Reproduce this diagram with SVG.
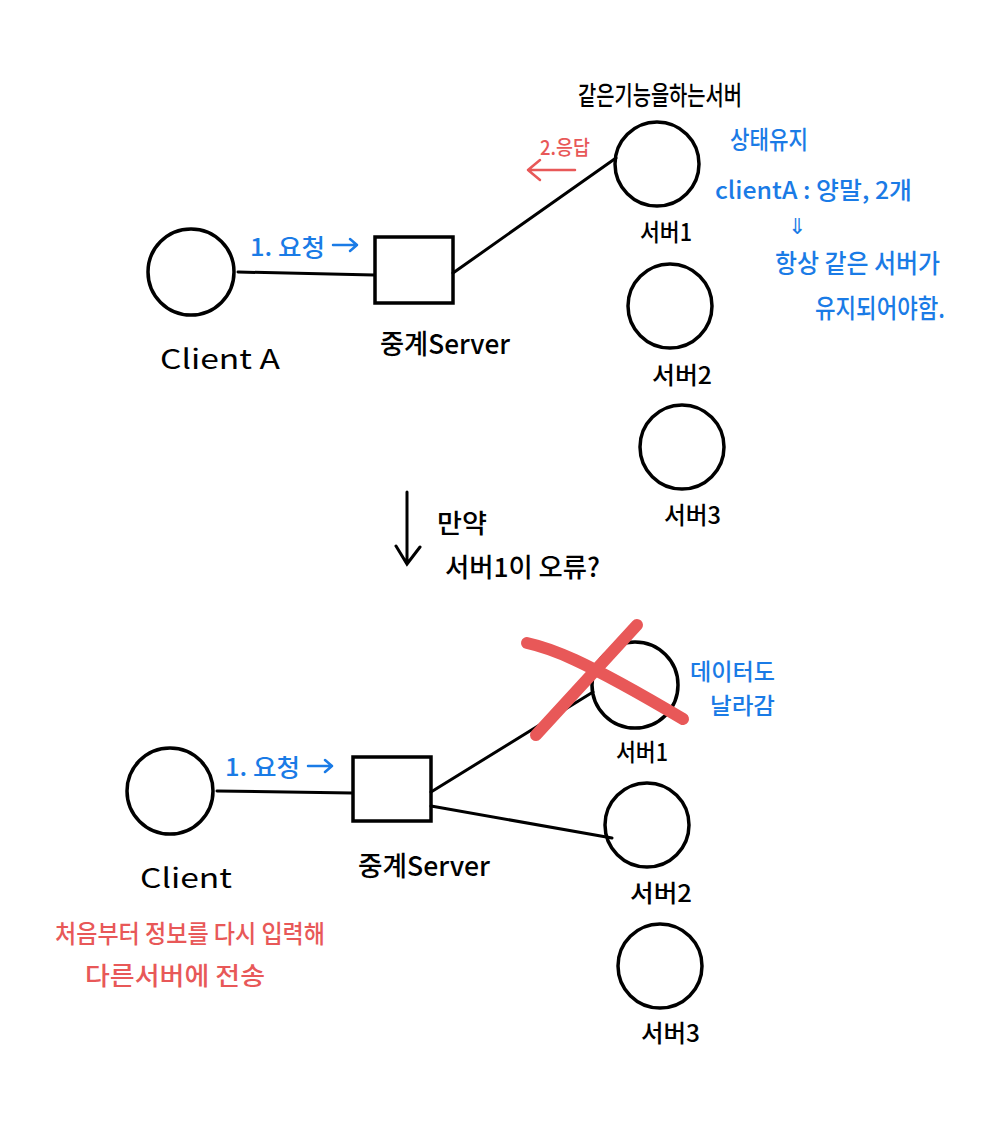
<svg xmlns="http://www.w3.org/2000/svg" width="1000" height="1142" viewBox="0 0 1000 1142">
<defs>
<style>
.bg{fill:#ffffff}
.node{fill:none;stroke:#000;stroke-width:3.5}
.edge{fill:none;stroke:#000;stroke-width:3;stroke-linecap:round}
.t{font-family:"Noto Sans CJK KR","Noto Sans",sans-serif;font-weight:500}
.lat{font-weight:400}
.k{fill:#000}
.b{fill:#1a7be6}
.r{fill:#e85858}
.bl{fill:none;stroke:#1a7be6;stroke-width:2.5;stroke-linecap:round;stroke-linejoin:round}
.rl{fill:none;stroke:#e85858;stroke-width:2.5;stroke-linecap:round;stroke-linejoin:round}
.x{fill:none;stroke:#e85858;stroke-width:12;stroke-linecap:round;stroke-linejoin:round}
</style>
</defs>
<rect class="bg" x="0" y="0" width="1000" height="1142"/>

<g id="connectors">
  <line class="edge" x1="238" y1="272" x2="374" y2="275"/>
  <line class="edge" x1="453" y1="273" x2="616" y2="158"/>
  <line class="edge" x1="217" y1="791" x2="352" y2="793"/>
  <line class="edge" x1="431" y1="792" x2="593" y2="692"/>
  <line class="edge" x1="431" y1="806" x2="612" y2="838"/>
  <path class="edge" d="M407 492 L407 563 M396 546 L407 564 L420 547"/>
</g>

<g id="top-client"><circle class="node" cx="191" cy="272" r="43"/>
  <text class="t lat k" x="160" y="369" font-size="27" textLength="120" lengthAdjust="spacingAndGlyphs">Client A</text></g>
<g id="top-relay"><rect class="node" x="375" y="237" width="78" height="66"/>
  <text class="t k" x="380" y="354" font-size="27" textLength="130" lengthAdjust="spacingAndGlyphs">중계Server</text></g>
<g id="top-server1"><circle class="node" cx="657" cy="164" r="42"/>
  <text class="t k" x="640" y="241" font-size="24" textLength="52" lengthAdjust="spacingAndGlyphs">서버1</text></g>
<g id="top-server2"><circle class="node" cx="670" cy="306" r="42"/>
  <text class="t k" x="652" y="384" font-size="24" textLength="60" lengthAdjust="spacingAndGlyphs">서버2</text></g>
<g id="top-server3"><circle class="node" cx="682" cy="447" r="42"/>
  <text class="t k" x="664" y="524" font-size="24" textLength="57" lengthAdjust="spacingAndGlyphs">서버3</text></g>

<g id="top-labels">
  <text class="t k" x="578" y="105" font-size="26" textLength="164" lengthAdjust="spacingAndGlyphs">같은기능을하는서버</text>
  <text class="t r" x="540" y="155" font-size="20" textLength="50" lengthAdjust="spacingAndGlyphs">2.응답</text>
  <path class="rl" d="M575 170 L528 170 M540 160 L528 170 L540 180"/>
  <text class="t b" x="250" y="256" font-size="24" textLength="75" lengthAdjust="spacingAndGlyphs">1. 요청</text>
  <path class="bl" d="M333 245 L357 245 M350 239 L357 245 L350 251"/>
  <text class="t b" x="730" y="149" font-size="25" textLength="78" lengthAdjust="spacingAndGlyphs">상태유지</text>
  <text class="t b" x="715" y="199" font-size="24" textLength="197" lengthAdjust="spacingAndGlyphs">clientA : 양말, 2개</text>
  <text class="t b" x="797" y="234" font-size="22" text-anchor="middle">⇓</text>
  <text class="t b" x="775" y="273" font-size="26" textLength="165" lengthAdjust="spacingAndGlyphs">항상 같은 서버가</text>
  <text class="t b" x="815" y="318" font-size="26" textLength="130" lengthAdjust="spacingAndGlyphs">유지되어야함.</text>
</g>

<g id="middle-labels">
  <text class="t k" x="437" y="533" font-size="26" textLength="50" lengthAdjust="spacingAndGlyphs">만약</text>
  <text class="t k" x="445" y="577" font-size="26" textLength="155" lengthAdjust="spacingAndGlyphs">서버1이 오류?</text>
</g>

<g id="bottom-client"><circle class="node" cx="170" cy="791" r="43"/>
  <text class="t lat k" x="140" y="888" font-size="27" textLength="92" lengthAdjust="spacingAndGlyphs">Client</text></g>
<g id="bottom-relay"><rect class="node" x="353" y="757" width="78" height="64"/>
  <text class="t k" x="358" y="876" font-size="27" textLength="132" lengthAdjust="spacingAndGlyphs">중계Server</text></g>
<g id="bottom-server1"><circle class="node" cx="635" cy="685" r="43"/>
  <text class="t k" x="616" y="761" font-size="24" textLength="52" lengthAdjust="spacingAndGlyphs">서버1</text></g>
<g id="bottom-server2"><circle class="node" cx="647" cy="825" r="42"/>
  <text class="t k" x="630" y="902" font-size="24" textLength="62" lengthAdjust="spacingAndGlyphs">서버2</text></g>
<g id="bottom-server3"><circle class="node" cx="660" cy="966" r="42"/>
  <text class="t k" x="641" y="1042" font-size="24" textLength="59" lengthAdjust="spacingAndGlyphs">서버3</text></g>

<g id="bottom-labels">
  <path class="x" d="M527 643 C550 648 580 658 683 719"/>
  <path class="x" d="M536 735 L637 625"/>
  <text class="t b" x="225" y="776" font-size="24" textLength="75" lengthAdjust="spacingAndGlyphs">1. 요청</text>
  <path class="bl" d="M308 766 L332 766 M325 760 L332 766 L325 772"/>
  <text class="t b" x="690" y="680" font-size="23" textLength="85" lengthAdjust="spacingAndGlyphs">데이터도</text>
  <text class="t b" x="710" y="714" font-size="23" textLength="65" lengthAdjust="spacingAndGlyphs">날라감</text>
  <text class="t r" x="55" y="943" font-size="25" textLength="270" lengthAdjust="spacingAndGlyphs">처음부터 정보를 다시 입력해</text>
  <text class="t r" x="85" y="985" font-size="25" textLength="180" lengthAdjust="spacingAndGlyphs">다른서버에 전송</text>
</g>
</svg>
